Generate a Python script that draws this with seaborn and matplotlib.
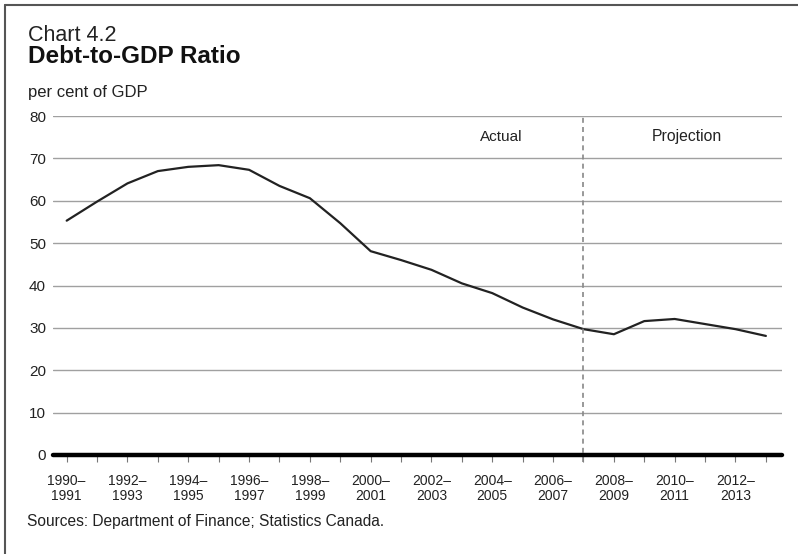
"""
Chart 4.2 - Debt-to-GDP Ratio (actual and projection)
"""

import numpy as np
import pandas as pd
import matplotlib
matplotlib.use("Agg")
import matplotlib.pyplot as plt
from matplotlib.lines import Line2D
import seaborn as sns

# fiscal years 1990-1991 ... 2013-2014
start_years = list(range(1990, 2014))
debt_ratio = [55.3, 59.8, 64.1, 67.0, 68.0, 68.4, 67.3, 63.5, 60.6, 54.7,
              48.1, 46.0, 43.7, 40.5, 38.2, 34.8, 32.0, 29.7, 28.5, 31.6,
              32.1, 30.9, 29.7, 28.1]
tick_labels = [f"{y}\u2013\n{y + 1}" if i % 2 == 0 else ""
               for i, y in enumerate(start_years)]
y_ticks = [0, 10, 20, 30, 40, 50, 60, 70, 80]
projection_start = 2007  # first projected fiscal year 2007-2008


def setup_style():
    sns.set_theme(style="white")
    plt.rcParams.update({
        'font.family': ['Liberation Sans', 'DejaVu Sans'],
        'font.size': 11,
        'text.color': '#222222',
        'xtick.color': '#222222',
        'ytick.color': '#222222',
    })


def plot_debt_ratio():
    df = pd.DataFrame({'idx': np.arange(len(start_years)), 'ratio': debt_ratio})

    fig = plt.figure(figsize=(7.98, 5.54), dpi=100)
    ax = fig.add_axes([53 / 798, 1 - 455 / 554, (782 - 53) / 798, (455 - 116) / 554])

    sns.lineplot(data=df, x='idx', y='ratio', color='#222222', linewidth=1.6, ax=ax)

    ax.set_xlim(-0.45, len(start_years) - 1 + 0.53)
    ax.set_ylim(0, 80)
    ax.set_xlabel('')
    ax.set_ylabel('')
    for s in ax.spines.values():
        s.set_visible(False)

    ax.set_yticks(y_ticks)
    ax.yaxis.grid(True, color='#a0a0a0', linewidth=1.0)
    ax.xaxis.grid(False)
    ax.tick_params(axis='y', length=0, pad=5, labelsize=11)

    ax.set_xticks(df['idx'])
    ax.set_xticklabels(tick_labels, linespacing=1.1)
    ax.tick_params(axis='x', length=5, width=0.8, color='#777777', pad=8.5, labelsize=10,
                   direction='out', bottom=True)

    # heavy zero line
    ax.axhline(0, color='black', linewidth=3.2, clip_on=False, zorder=3)

    # actual / projection divider
    xi = start_years.index(projection_start)
    ax.axvline(xi, ymin=-0.022, ymax=1, color='#888888', linewidth=1.2,
               linestyle=(0, (3, 2.5)), clip_on=False, zorder=2)
    ax.text(14.3, 75.1, 'Actual', ha='center', va='center', fontsize=11)
    ax.text(20.4, 75.2, 'Projection', ha='center', va='center', fontsize=11.3)

    # titles and notes
    fig.text(28 / 798, 1 - 41 / 554, 'Chart 4.2', fontsize=15.5, va='baseline')
    fig.text(28 / 798, 1 - 63 / 554, 'Debt-to-GDP Ratio', fontsize=17.5,
             fontweight='bold', va='baseline', color='#111111')
    fig.text(28 / 798, 1 - 97 / 554, 'per cent of GDP', fontsize=12, va='baseline')
    fig.text(27 / 798, 1 - 526 / 554, 'Sources: Department of Finance; Statistics Canada.',
             fontsize=11.2, va='baseline')

    # frame (top and left only)
    fig.add_artist(Line2D([5 / 798, 1], [1 - 5 / 554] * 2, transform=fig.transFigure,
                          color='#555555', linewidth=1.5))
    fig.add_artist(Line2D([5 / 798] * 2, [0, 1 - 5 / 554], transform=fig.transFigure,
                          color='#555555', linewidth=1.5))

    fig.savefig('out.png', dpi=100)
    plt.close(fig)


if __name__ == "__main__":
    setup_style()
    plot_debt_ratio()
